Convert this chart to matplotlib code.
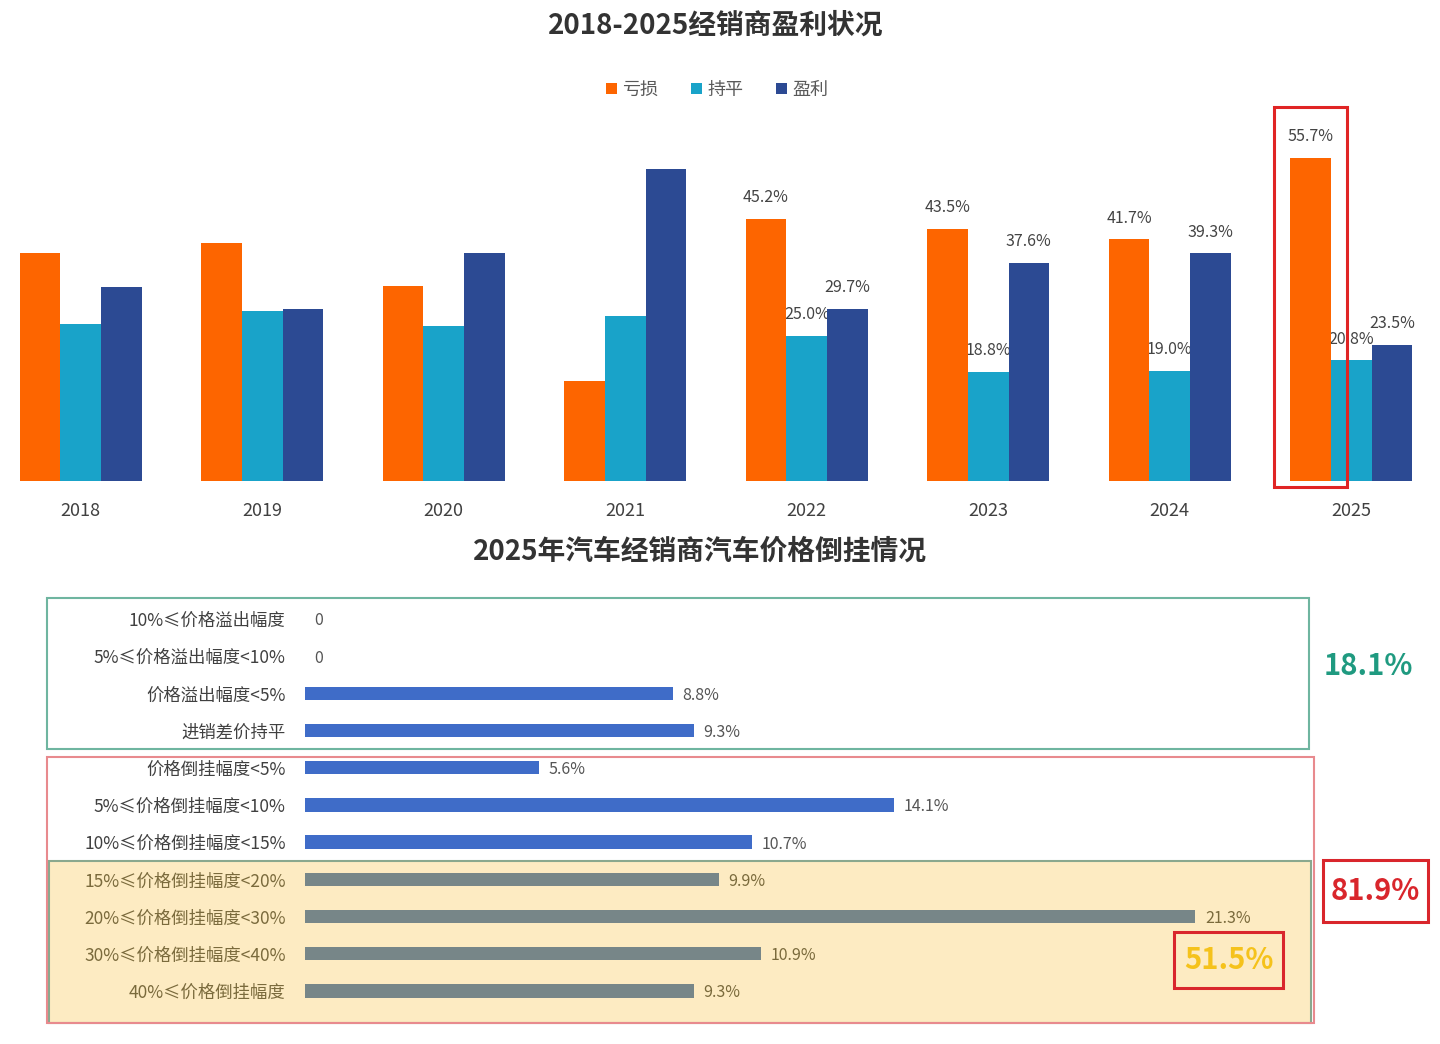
import numpy as np
import matplotlib
matplotlib.use("Agg")
import matplotlib.pyplot as plt
import matplotlib.patches as mpatches

plt.rcParams["font.family"] = ["Noto Sans CJK SC", "DejaVu Sans"]

# ---- top chart data ----
YEARS = ["2018", "2019", "2020", "2021", "2022", "2023", "2024", "2025"]
LOSS = [39.3, 41.0, 33.6, 17.2, 45.2, 43.5, 41.7, 55.7]
FLAT = [27.1, 29.3, 26.7, 28.4, 25.0, 18.8, 19.0, 20.8]
PROFIT = [33.4, 29.6, 39.3, 53.8, 29.7, 37.6, 39.3, 23.5]
SERIES = ["亏损", "持平", "盈利"]
LABEL_FROM = 4  # value labels only shown from 2022 on

# ---- bottom chart data ----
BANDS = ["10%≤价格溢出幅度", "5%≤价格溢出幅度<10%", "价格溢出幅度<5%", "进销差价持平",
         "价格倒挂幅度<5%", "5%≤价格倒挂幅度<10%", "10%≤价格倒挂幅度<15%",
         "15%≤价格倒挂幅度<20%", "20%≤价格倒挂幅度<30%", "30%≤价格倒挂幅度<40%",
         "40%≤价格倒挂幅度"]
SHARE = [0, 0, 8.8, 9.3, 5.6, 14.1, 10.7, 9.9, 21.3, 10.9, 9.3]
SHARE_TXT = ["0", "0", "8.8%", "9.3%", "5.6%", "14.1%", "10.7%", "9.9%", "21.3%", "10.9%", "9.3%"]
GROUP_TOTALS = ["18.1%", "81.9%", "51.5%"]

C_LOSS, C_FLAT, C_PROFIT = "#fd6500", "#19a3c9", "#2c4a93"
C_BLUE, C_GRAY = "#3f6cc8", "#778688"
C_OLIVE = "#7a6a3c"

fig = plt.figure(figsize=(14.4, 10.44), dpi=100)
fig.patch.set_facecolor("white")

# ================= top: grouped bars =================
ax = fig.add_axes([0.0132, 0.5393, 0.968, 0.3333])
x = np.arange(len(YEARS))
w = 0.224
cols = [C_LOSS, C_FLAT, C_PROFIT]
vals = [LOSS, FLAT, PROFIT]
for k, (v, c, name) in enumerate(zip(vals, cols, SERIES)):
    xs = x + (k - 1) * w
    ax.bar(xs, v, w, color=c, label=name, zorder=2)
    for i in range(LABEL_FROM, len(YEARS)):
        ax.annotate(f"{v[i]:.1f}%", (xs[i], v[i]), xytext=(0, 9), textcoords="offset points",
                    ha="center", va="bottom", fontsize=11.5, color="#444444", zorder=1)
ax.set_xlim(-0.34, 7.34)
ax.set_ylim(0, 60)
ax.set_xticks(x)
ax.set_xticklabels(YEARS, fontsize=13, color="#404040")
ax.tick_params(axis="x", length=0, pad=15)
ax.set_yticks([])
for s in ax.spines.values():
    s.set_visible(False)

# highlight box around the 2025 loss bar
xb = x[-1] - w
ax.add_patch(mpatches.Rectangle((xb - 0.2, -1.0), 0.4, 65.5, fill=False, ec="#e02424",
                                lw=2.2, clip_on=False, zorder=5))

fig.text(0.497, 0.975, "2018-2025经销商盈利状况", ha="center", va="center",
         fontsize=20, fontweight="bold", color="#333333")
fig.legend(*ax.get_legend_handles_labels(), loc="center", bbox_to_anchor=(0.498, 0.914),
           ncol=3, frameon=False, fontsize=13, handlelength=0.6, handleheight=0.6,
           handletextpad=0.3, columnspacing=1.8, labelcolor="#595959")

fig.text(0.486, 0.472, "2025年汽车经销商汽车价格倒挂情况", ha="center", va="center",
         fontsize=20, fontweight="bold", color="#333333")

# ================= bottom: horizontal bars =================
ax2 = fig.add_axes([0.2118, 0.0326, 0.788, 0.3927])
y = np.arange(len(BANDS))
bar_cols = [C_BLUE] * 7 + [C_GRAY] * 4
txt_cols = ["#404040"] * 7 + [C_OLIVE] * 4

# group frames (drawn first so bars sit on top)
ax2.add_patch(mpatches.Rectangle((-6.12, 6.5), 30.2, 4.35, fc="#fdebc2", ec="#8aa88e",
                                 lw=1.5, clip_on=False, zorder=0))
ax2.add_patch(mpatches.Rectangle((-6.17, 3.7), 30.31, 7.15, fill=False, ec="#e88a8e",
                                 lw=1.5, clip_on=False, zorder=1))
ax2.add_patch(mpatches.Rectangle((-6.17, -0.55), 30.19, 4.05, fill=False, ec="#6fb5a0",
                                 lw=1.5, clip_on=False, zorder=1))

ax2.barh(y, SHARE, 0.36, color=bar_cols, zorder=2)
for yi, v, t, c in zip(y, SHARE, SHARE_TXT, txt_cols):
    ax2.annotate(t, (v, yi), xytext=(7, 0), textcoords="offset points", ha="left",
                 va="center_baseline", fontsize=11.5,
                 color=c if c != "#404040" else "#555555")
ax2.set_ylim(10.51, -0.51)
ax2.set_xlim(0, 27.15)
ax2.set_yticks(y)
ax2.set_yticklabels(BANDS, fontsize=12.5)
for lab, c in zip(ax2.get_yticklabels(), txt_cols):
    lab.set_color(c)
ax2.tick_params(axis="y", length=0, pad=14)
ax2.set_xticks([])
for s in ax2.spines.values():
    s.set_visible(False)
ax2.patch.set_alpha(0)

# group totals
ax2.text(25.43, 1.26, GROUP_TOTALS[0], ha="center", va="center", fontsize=21,
         fontweight="bold", color="#1f9a80", clip_on=False)
ax2.add_patch(mpatches.Rectangle((24.35, 6.48), 2.52, 1.67, fill=False, ec="#d9262c",
                                 lw=2.2, clip_on=False, zorder=4))
ax2.text(25.61, 7.31, GROUP_TOTALS[1], ha="center", va="center", fontsize=21,
         fontweight="bold", color="#d9262c", clip_on=False)
ax2.add_patch(mpatches.Rectangle((20.79, 8.41), 2.61, 1.51, fill=False, ec="#d9262c",
                                 lw=2.2, clip_on=False, zorder=4))
ax2.text(22.1, 9.17, GROUP_TOTALS[2], ha="center", va="center", fontsize=21,
         fontweight="bold", color="#f5c21b", clip_on=False)

fig.savefig("out.png", dpi=100, facecolor="white")
